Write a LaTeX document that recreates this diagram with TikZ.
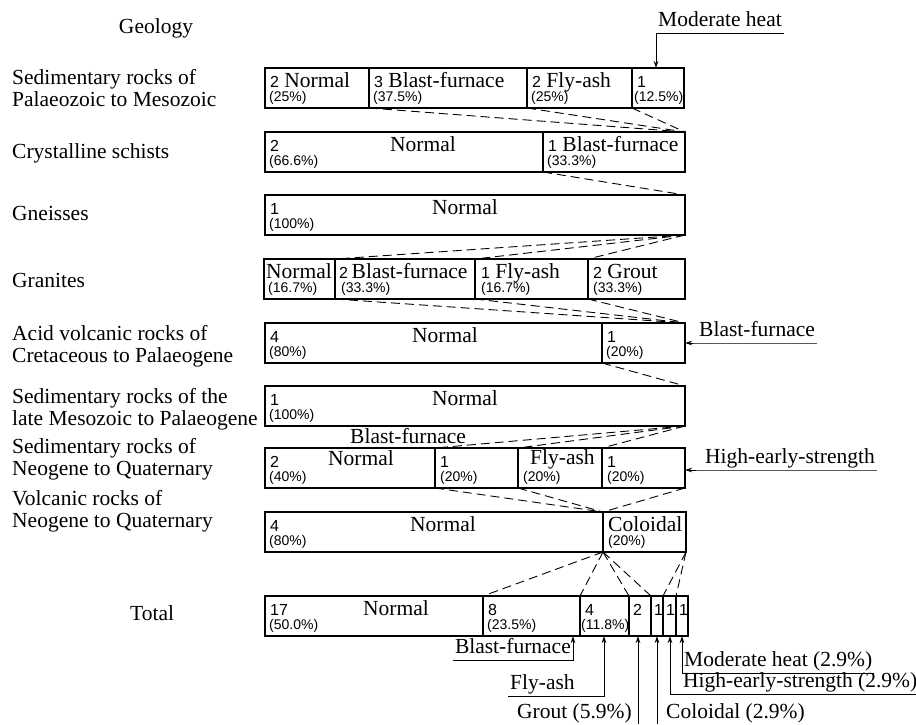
\documentclass[tikz,border=0pt]{standalone}
\usepackage{fontspec}
\setmainfont{Liberation Serif}
\newfontfamily\numfont{Liberation Sans}
\usetikzlibrary{arrows.meta,calc}
\newcommand\nm[1]{{\numfont\fontsize{16}{16}\selectfont #1}}
\newcommand\segm[5]{\node[segbox, minimum width={(#3-#2)*1pt}] (#1) at (#2,#4) {};}
\newcommand\wt[4]{\node[wordtxt] (#1) at ($(#2.north west)+(#3)$) {#4};}
\begin{document}
\begin{tikzpicture}[x=1pt,y=-1pt,
 segbox/.style={draw, line width=1.3pt, inner sep=0, outer sep=0, minimum height=40pt, anchor=north west},
 pcttxt/.style={font=\numfont\fontsize{14}{14}\selectfont, inner sep=0, anchor=base west},
 wordtxt/.style={font=\fontsize{21.5}{21.5}\selectfont, inner sep=0, anchor=base west},
 geolab/.style={font=\fontsize{21.5}{21.5}\selectfont, align=left, inner sep=0, anchor=base west},
 flow/.style={dash pattern=on 9pt off 5pt, line width=0.9pt},
 lead/.style={line width=0.9pt, -{Stealth[length=7pt,width=4.5pt]}},
 ullab/.style={font=\fontsize{21.5}{21.5}\selectfont, inner xsep=2pt, inner ysep=0pt, text depth=6pt}]
\useasboundingbox (0,0) rectangle (916,724);
% ---------- left labels (base = last line) ----------
\node[wordtxt, anchor=base] (geo) at (156,33) {Geology};
\node[geolab] (g1) at (12,106) {Sedimentary rocks of\\Palaeozoic to Mesozoic};
\node[geolab] (g2) at (12,158) {Crystalline schists};
\node[geolab] (g3) at (12,220) {Gneisses};
\node[geolab] (g4) at (12,287) {Granites};
\node[geolab] (g5) at (12,362) {Acid volcanic rocks of\\Cretaceous to Palaeogene};
\node[geolab] (g6) at (12,425) {Sedimentary rocks of the\\late Mesozoic to Palaeogene};
\node[geolab] (g7) at (12,475) {Sedimentary rocks of\\Neogene to Quaternary};
\node[geolab] (g8) at (12,527) {Volcanic rocks of\\Neogene to Quaternary};
\node[wordtxt] (gt) at (130,620) {Total};
% ---------- bars ----------
\segm{r1a}{265}{369}{68}{}\segm{r1b}{369}{527}{68}{}\segm{r1c}{527}{632}{68}{}\segm{r1d}{632}{684}{68}{}
\segm{r2a}{265}{543}{132}{}\segm{r2b}{543}{685}{132}{}
\segm{r3a}{265}{685}{195}{}
\segm{r4a}{264}{335}{259}{}\segm{r4b}{335}{475}{259}{}\segm{r4c}{475}{588}{259}{}\segm{r4d}{588}{685}{259}{}
\segm{r5a}{265}{602}{323}{}\segm{r5b}{602}{685}{323}{}
\segm{r6a}{265}{685}{386}{}
\segm{r7a}{265}{435}{448}{}\segm{r7b}{435}{518}{448}{}\segm{r7c}{518}{602}{448}{}\segm{r7d}{602}{685}{448}{}
\segm{r8a}{265}{603}{512}{}\segm{r8b}{603}{686}{512}{}
\segm{ta}{265}{483}{596}{}\segm{tb}{483}{580}{596}{}\segm{tc}{580}{629}{596}{}\segm{td}{629}{651}{596}{}
\segm{te}{651}{663}{596}{}\segm{tf}{663}{676}{596}{}\segm{tg}{676}{688}{596}{}
% ---------- bar texts ----------
\wt{r1a1}{r1a}{5,19}{\nm{2} Normal}\node[pcttxt] (r1a2) at ($(r1a.north west)+(4,33)$) {(25\%)};
\wt{r1b1}{r1b}{5,19}{\nm{3} Blast-furnace}\node[pcttxt] (r1b2) at ($(r1b.north west)+(4,33)$) {(37.5\%)};
\wt{r1c1}{r1c}{5,19}{\nm{2} Fly-ash}\node[pcttxt] (r1c2) at ($(r1c.north west)+(4,33)$) {(25\%)};
\wt{r1d1}{r1d}{5,19}{\nm{1}}\node[pcttxt] (r1d2) at ($(r1d.north west)+(2,33)$) {(12.5\%)};
\wt{r2a1}{r2a}{5,19}{\nm{2}}\wt{r2a3}{r2a}{125,19}{Normal}\node[pcttxt] (r2a2) at ($(r2a.north west)+(4,33)$) {(66.6\%)};
\wt{r2b1}{r2b}{5,19}{\nm{1} Blast-furnace}\node[pcttxt] (r2b2) at ($(r2b.north west)+(4,33)$) {(33.3\%)};
\wt{r3a1}{r3a}{5,19}{\nm{1}}\wt{r3a3}{r3a}{167,19}{Normal}\node[pcttxt] (r3a2) at ($(r3a.north west)+(4,33)$) {(100\%)};
\wt{r4a1}{r4a}{2,19}{Normal}\node[pcttxt] (r4a2) at ($(r4a.north west)+(4,33)$) {(16.7\%)};
\wt{r4b1}{r4b}{4,19}{\nm{2}\,Blast-furnace}\node[pcttxt] (r4b2) at ($(r4b.north west)+(6,33)$) {(33.3\%)};
\wt{r4c1}{r4c}{6,19}{\nm{1} Fly-ash}\node[pcttxt] (r4c2) at ($(r4c.north west)+(6,33)$) {(16.7\%)};
\wt{r4d1}{r4d}{5,19}{\nm{2} Grout}\node[pcttxt] (r4d2) at ($(r4d.north west)+(5,33)$) {(33.3\%)};
\wt{r5a1}{r5a}{5,19}{\nm{4}}\wt{r5a3}{r5a}{147,19}{Normal}\node[pcttxt] (r5a2) at ($(r5a.north west)+(4,33)$) {(80\%)};
\wt{r5b1}{r5b}{5,19}{\nm{1}}\node[pcttxt] (r5b2) at ($(r5b.north west)+(4,33)$) {(20\%)};
\wt{r6a1}{r6a}{5,19}{\nm{1}}\wt{r6a3}{r6a}{167,19}{Normal}\node[pcttxt] (r6a2) at ($(r6a.north west)+(4,33)$) {(100\%)};
\wt{r7a1}{r7a}{5,19}{\nm{2}}\wt{r7a3}{r7a}{63,17}{Normal}\node[pcttxt] (r7a2) at ($(r7a.north west)+(4,33)$) {(40\%)};
\wt{r7b1}{r7b}{5,19}{\nm{1}}\node[pcttxt] (r7b2) at ($(r7b.north west)+(5,33)$) {(20\%)};
\wt{r7c1}{r7c}{12,16}{Fly-ash}\node[pcttxt] (r7c2) at ($(r7c.north west)+(5,33)$) {(20\%)};
\wt{r7d1}{r7d}{5,19}{\nm{1}}\node[pcttxt] (r7d2) at ($(r7d.north west)+(5,33)$) {(20\%)};
\wt{r8a1}{r8a}{5,19}{\nm{4}}\wt{r8a3}{r8a}{145,19}{Normal}\node[pcttxt] (r8a2) at ($(r8a.north west)+(4,33)$) {(80\%)};
\wt{r8b1}{r8b}{5,19}{Coloidal}\node[pcttxt] (r8b2) at ($(r8b.north west)+(5,33)$) {(20\%)};
\wt{ta1}{ta}{5,19}{\nm{17}}\wt{ta3}{ta}{98,19}{Normal}\node[pcttxt] (ta2) at ($(ta.north west)+(4,33)$) {(50.0\%)};
\wt{tb1}{tb}{5,19}{\nm{8}}\node[pcttxt] (tb2) at ($(tb.north west)+(4,33)$) {(23.5\%)};
\wt{tc1}{tc}{5,19}{\nm{4}}\node[pcttxt] (tc2) at ($(tc.north west)+(1,33)$) {(11.8\%)};
\wt{td1}{td}{4,19}{\nm{2}}
\wt{te1}{te}{3,19}{\nm{1}}\wt{tf1}{tf}{3,19}{\nm{1}}\wt{tg1}{tg}{3,19}{\nm{1}}
% ---------- dashed flows ----------
\foreach \s in {r1b,r1c,r1d} \draw[flow] (\s.south west) -- (r2b.north east);
\draw[flow] (r2b.south west) -- (r3a.north east);
\foreach \s in {r4b,r4c,r4d} \draw[flow] (r3a.south east) -- (\s.north west);
\foreach \s in {r4b,r4c,r4d} \draw[flow] (\s.south west) -- (r5b.north east);
\draw[flow] (r5b.south west) -- (r6a.north east);
\foreach \s in {r7b,r7c,r7d} \draw[flow] (r6a.south east) -- (\s.north west);
\foreach \s in {r7b,r7c} \draw[flow] (\s.south west) -- (r8b.north west);
\draw[flow] (r7d.south east) -- (r8b.north west);
\foreach \s in {tb,tc,td,te} \draw[flow] (r8b.south west) -- (\s.north west);
\foreach \s in {tf,tg} \draw[flow] (r8b.south east) -- (\s.north west);
% ---------- annotations ----------
\node[wordtxt, anchor=base west] (bfl) at (350,443) {Blast-furnace};
\node[ullab, anchor=south west] (mh) at (656,33) {Moderate heat};
\draw[lead] (mh.south east) -- (mh.south west) -- (mh.south west |- r1d.north);
\node[ullab, anchor=south west] (bf5) at (697,343) {Blast-furnace};
\draw[lead] (bf5.south east) -- (bf5.south west) -- (bf5.south west -| r5b.east);
\node[ullab, anchor=south west] (hes) at (703,470) {High-early-strength};
\draw[lead] (hes.south east) -- (hes.south west) -- (hes.south west -| r7d.east);
% bottom
\node[ullab, anchor=south east] (bft) at (573,660) {Blast-furnace};
\draw[lead] (bft.south west) -- (bft.south east) -- (bft.south east |- tb.south);
\node[ullab, anchor=south west] (fa) at (508,696) {Fly-ash};
\coordinate (faC) at (604,696);
\draw[lead] (fa.south west) -- (faC) -- (faC |- tc.south);
\node[wordtxt, anchor=base east] (gr) at (632,718) {Grout (5.9\%)};
\coordinate (grC) at (638,724);
\draw[lead] (grC) -- (grC |- td.south);
\node[wordtxt, anchor=base west] (co) at (666,718) {Coloidal (2.9\%)};
\coordinate (coC) at (657,724);
\draw[lead] (coC) -- (coC |- te.south);
\node[ullab, anchor=south west] (he2) at (681,694) {High-early-strength (2.9\%)};
\coordinate (heC) at (670,694);
\draw[lead] (he2.south east) -- (heC) -- (heC |- tf.south);
\node[ullab, anchor=south west] (mh2) at (682,673) {Moderate heat (2.9\%)};
\draw[lead] (mh2.south east) -- (mh2.south west) -- (mh2.south west |- tg.south);
\end{tikzpicture}
\end{document}
